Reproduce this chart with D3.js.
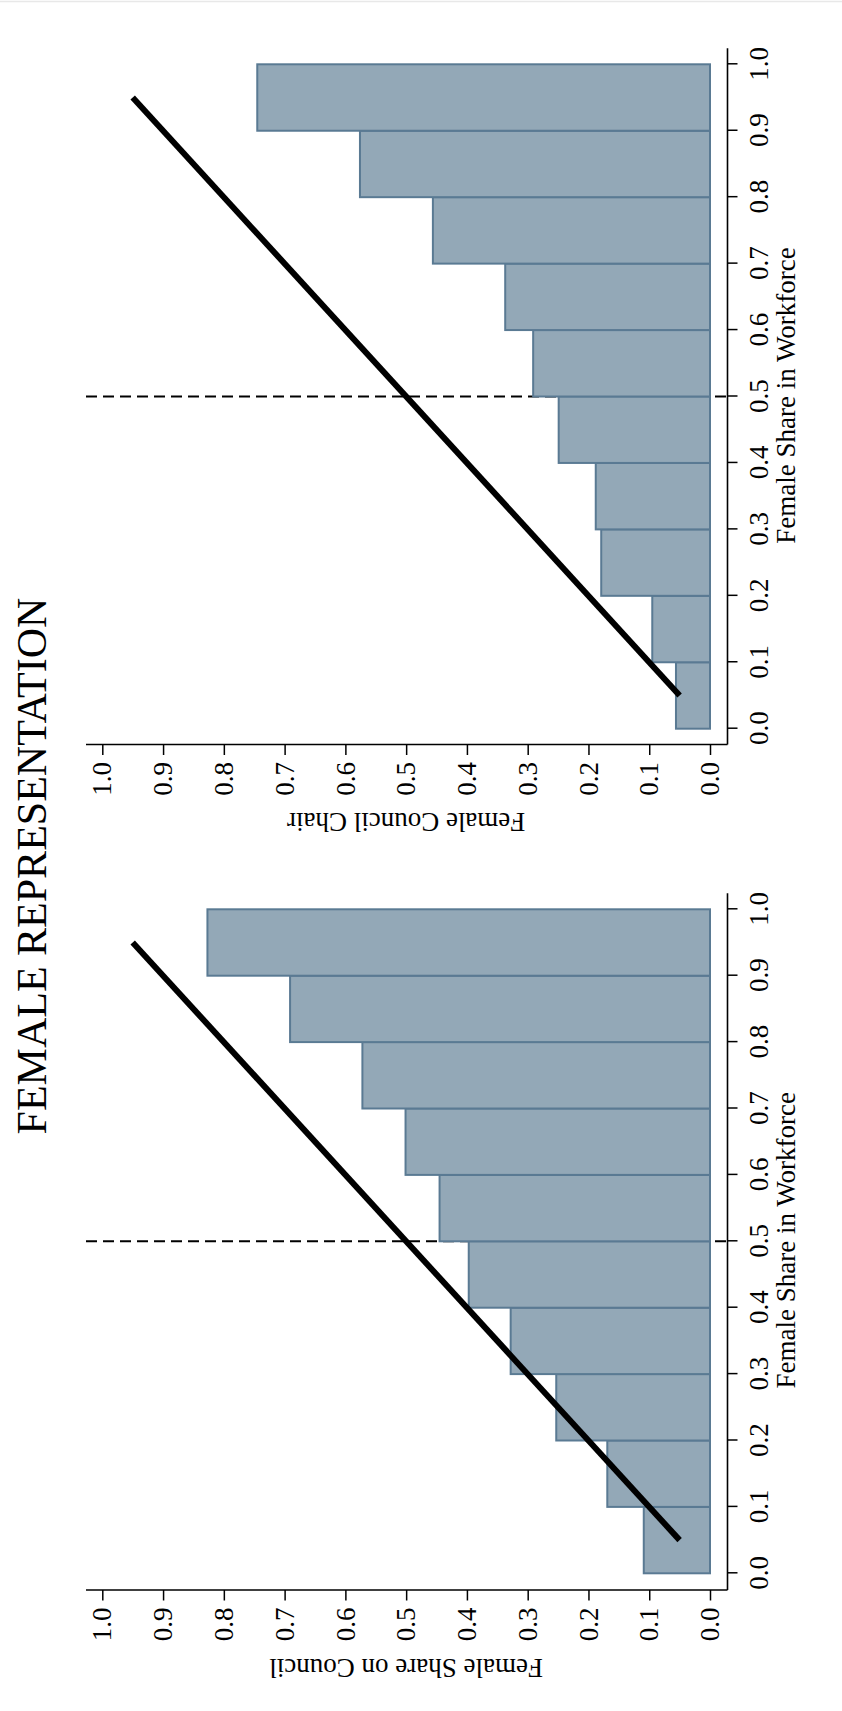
<!DOCTYPE html>
<html><head><meta charset="utf-8">
<script src="https://cdn.jsdelivr.net/npm/d3@7"></script>
<style>html,body{margin:0;padding:0;background:#fff;} svg{display:block;}</style>
</head><body>
<svg id="chart" width="842" height="1711"></svg>
<script>
// ---- data ----
const binStarts = [0.0, 0.1, 0.2, 0.3, 0.4, 0.5, 0.6, 0.7, 0.8, 0.9];
const binWidth = 0.1;
const xTicks = [0.0, 0.1, 0.2, 0.3, 0.4, 0.5, 0.6, 0.7, 0.8, 0.9, 1.0];
const yTicks = [0.0, 0.1, 0.2, 0.3, 0.4, 0.5, 0.6, 0.7, 0.8, 0.9, 1.0];
const councilShareValues = [0.109, 0.169, 0.253, 0.328, 0.397, 0.445, 0.501, 0.572, 0.691, 0.827];
const councilChairValues = [0.056, 0.095, 0.179, 0.188, 0.249, 0.291, 0.337, 0.456, 0.576, 0.745];
const diagonalPoints = [[0.05, 0.05], [0.95, 0.95]];
const referenceX = 0.5;
const titleText = "FEMALE REPRESENTATION";
const xAxisTitle = "Female Share in Workforce";
const yAxisTitles = ["Female Share on Council", "Female Council Chair"];

// ---- layout ----
const W = 842, H = 1711;
const FONT = "'Liberation Serif','Times New Roman',Times,serif";
const svg = d3.select("#chart");
svg.append("line").attr("x1", 0).attr("x2", W).attr("y1", 1.5).attr("y2", 1.5)
  .attr("stroke", "#e8e8e8").attr("stroke-width", 1.5);

// draw the landscape figure, then rotate it onto the portrait page
const root = svg.append("g").attr("transform", `translate(0,${H}) rotate(-90)`);

root.append("text").attr("x", 845).attr("y", 46)
  .attr("text-anchor", "middle").attr("font-family", FONT).attr("font-size", 42)
  .attr("fill", "#000").text(titleText);

const panelLayout = [
  { values: councilShareValues, yTitle: yAxisTitles[0], r0: 137.7, r1: 801.7, axisU: 121 },
  { values: councilChairValues, yTitle: yAxisTitles[1], r0: 982.3, r1: 1646.7, axisU: 966.5 }
];
const axisV = 727.5, yTopV = 86;

panelLayout.forEach(p => {
  const g = root.append("g");
  const x = d3.scaleLinear().domain([0, 1]).range([p.r0, p.r1]);
  const y = d3.scaleLinear().domain([0, 1]).range([710, 102.3]);

  // dashed reference line
  g.append("line")
    .attr("x1", x(referenceX)).attr("x2", x(referenceX))
    .attr("y1", yTopV).attr("y2", axisV)
    .attr("stroke", "#000").attr("stroke-width", 2).attr("stroke-dasharray", "11,6");

  // bars
  const data = binStarts.map((b, i) => ({ b, v: p.values[i] }));
  g.selectAll("rect.bar").data(data).enter().append("rect")
    .attr("class", "bar")
    .attr("x", d => x(d.b)).attr("width", d => x(d.b + binWidth) - x(d.b))
    .attr("y", d => y(d.v)).attr("height", d => y(0) - y(d.v))
    .attr("fill", "#93a8b7").attr("stroke", "#5a7a93").attr("stroke-width", 2);

  // 45-degree line
  g.append("path").datum(diagonalPoints)
    .attr("d", d3.line().x(d => x(d[0])).y(d => y(d[1])))
    .attr("stroke", "#000").attr("stroke-width", 6).attr("fill", "none");

  // x axis
  const xa = g.append("g").attr("transform", `translate(0,${axisV})`)
    .call(d3.axisBottom(x).tickValues(xTicks).tickSize(10).tickPadding(11)
      .tickFormat(d3.format(".1f")));
  xa.select(".domain").remove();
  xa.selectAll("line").attr("stroke", "#000").attr("stroke-width", 1.5);
  xa.selectAll("text").attr("font-family", FONT).attr("font-size", 27).attr("fill", "#000");
  g.append("line").attr("x1", p.axisU).attr("x2", p.r1 + 16).attr("y1", axisV).attr("y2", axisV)
    .attr("stroke", "#000").attr("stroke-width", 1.6);

  // y axis
  const ya = g.append("g").attr("transform", `translate(${p.axisU},0)`)
    .call(d3.axisLeft(y).tickValues(yTicks).tickSize(10.5).tickPadding(7)
      .tickFormat(d3.format(".1f")));
  ya.select(".domain").remove();
  ya.selectAll("line").attr("stroke", "#000").attr("stroke-width", 1.5);
  ya.selectAll("text").attr("font-family", FONT).attr("font-size", 27).attr("fill", "#000");
  g.append("line").attr("x1", p.axisU).attr("x2", p.axisU).attr("y1", axisV).attr("y2", yTopV)
    .attr("stroke", "#000").attr("stroke-width", 1.6);

  // axis titles
  g.append("text").attr("x", x(0.5) + 1).attr("y", 795)
    .attr("text-anchor", "middle").attr("font-family", FONT).attr("font-size", 27)
    .attr("fill", "#000").text(xAxisTitle);
  g.append("text")
    .attr("transform", `translate(${p.axisU - 68.5},${(y(0) + y(1)) / 2}) rotate(-90)`)
    .attr("text-anchor", "middle").attr("font-family", FONT).attr("font-size", 27)
    .attr("fill", "#000").text(p.yTitle);
});
</script>
</body></html>
